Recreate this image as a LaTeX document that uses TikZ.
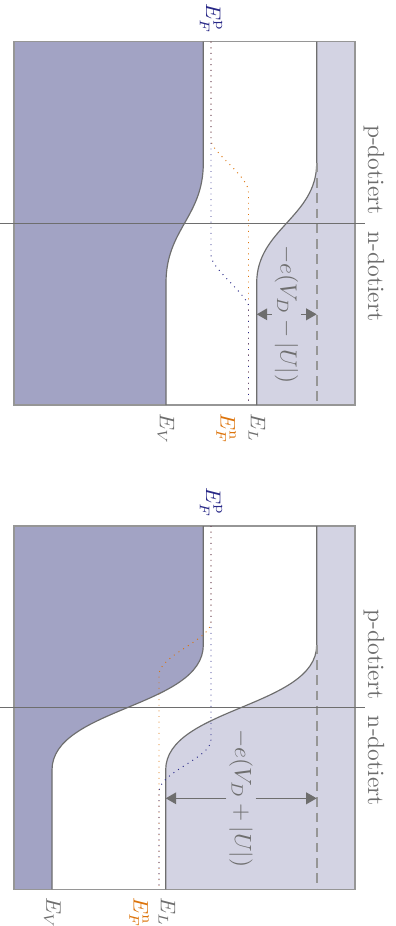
\documentclass[tikz,border=0pt]{standalone}
\usetikzlibrary{arrows.meta}

\definecolor{vbfill}{RGB}{162,163,196}
\definecolor{cbfill}{RGB}{211,211,227}
\definecolor{fpblue}{RGB}{40,40,135}
\definecolor{fnorange}{RGB}{220,115,10}
\definecolor{txtgray}{RGB}{110,110,110}
\definecolor{boxgray}{RGB}{150,150,150}

\begin{document}
\begin{tikzpicture}[x=0.015cm, y=0.015cm, rotate=-90, transform shape,
    boxline/.style={boxgray, line width=0.6pt},
    bandline/.style={txtgray, line width=0.5pt},
    refline/.style={boxgray, line width=0.8pt, dash pattern=on 4pt off 2.5pt},
    fpline/.style={fpblue, dotted, thin},
    fnline/.style={fnorange, dotted, thin},
    junction/.style={txtgray, line width=0.5pt},
    doplabel/.style={txtgray},
    elabel/.style={txtgray, font=\small},
    dimlabel/.style={txtgray, inner sep=1pt},
    dimarrow/.style={txtgray, line width=0.6pt, -{Triangle[length=4.5pt, width=5pt]}}]

  \useasboundingbox (0,0) rectangle (926,396);

  % ---- upper diagram ----
  \fill[cbfill] (41.7,316.7) -- (163,316.7) .. controls (217,316.7) and (229,256.7) .. (283,256.7)
    -- (405,256.7) -- (405,355) -- (41.7,355) -- cycle;
  \fill[vbfill] (41.7,14) -- (41.7,203.3) -- (163,203.3) .. controls (217,203.3) and (229,166) .. (283,166)
    -- (405,166) -- (405,14) -- cycle;
  \draw[boxline] (41.7,14) rectangle (405,355);

  % band edges, E_L of the p side continued
  \draw[bandline] (41.7,203.3) -- (163,203.3) .. controls (217,203.3) and (229,166) .. (283,166) -- (405,166);
  \draw[bandline] (41.7,316.7) -- (163,316.7) .. controls (217,316.7) and (229,256.7) .. (283,256.7) -- (405,256.7);
  \draw[refline] (163,316.7) -- (405,316.7);

  % quasi Fermi levels
  \draw[fnline] (41.7,211) -- (140,211) .. controls (152,211) and (176,248.5) .. (192,248.5) -- (405,248.5);
  \draw[fpline] (41.7,211) -- (255,211) .. controls (268,211) and (290,242) .. (305,248.5) -- (405,248.5);

  % junction
  \draw[junction] (223.3,0) -- (223.3,365);
  \node[doplabel, anchor=base east] (pdot1) at (223.3,368) {p-dotiert};
  \node[doplabel, anchor=base west] (ndot1) at (223.3,368) {n-dotiert};

  % level labels
  \node[elabel, text=fpblue, anchor=east] (efp1) at (41.7,211) {$E_F^{\mathrm{p}}$};
  \node[elabel, anchor=west] (ev1) at (405,166) {$E_V$};
  \node[elabel, text=fnorange, anchor=west] (efn1) at (405,226) {$E_F^{\mathrm{n}}$};
  \node[elabel, anchor=west] (el1) at (405,257) {$E_L$};

  % barrier
  \node[dimlabel] (gap1) at (314.3,286.5) {$-e(V_D-|U|)$};
  \coordinate (gap1L) at (314.3,256.7);
  \coordinate (gap1C) at (314.3,316.7);
  \draw[dimarrow] (gap1) -- (gap1L);
  \draw[dimarrow] (gap1) -- (gap1C);

  % ---- lower diagram ----
  \fill[cbfill] (526,316.7) -- (645,316.7) .. controls (707,316.7) and (708,165.7) .. (770,165.7)
    -- (889.3,165.7) -- (889.3,355) -- (526,355) -- cycle;
  \fill[vbfill] (526,14) -- (526,203.3) -- (645,203.3) .. controls (707,203.3) and (708,52) .. (770,52)
    -- (889.3,52) -- (889.3,14) -- cycle;
  \draw[boxline] (526,14) rectangle (889.3,355);

  \draw[bandline] (526,203.3) -- (645,203.3) .. controls (707,203.3) and (708,52) .. (770,52) -- (889.3,52);
  \draw[bandline] (526,316.7) -- (645,316.7) .. controls (707,316.7) and (708,165.7) .. (770,165.7) -- (889.3,165.7);
  \draw[refline] (645,316.7) -- (889.3,316.7);

  \draw[fnline] (526,211) -- (622,211) .. controls (640,211) and (655,159) .. (675,159) -- (889.3,159);
  \draw[fpline] (526,211) -- (740,211) .. controls (758,211) and (772,159) .. (792,159) -- (889.3,159);

  \draw[junction] (707.7,0) -- (707.7,365);
  \node[doplabel, anchor=base east] (pdot2) at (707.7,368) {p-dotiert};
  \node[doplabel, anchor=base west] (ndot2) at (707.7,368) {n-dotiert};

  \node[elabel, text=fpblue, anchor=east] (efp2) at (526,211) {$E_F^{\mathrm{p}}$};
  \node[elabel, anchor=west] (ev2) at (889.3,52.5) {$E_V$};
  \node[elabel, text=fnorange, anchor=west] (efn2) at (889.3,139) {$E_F^{\mathrm{n}}$};
  \node[elabel, anchor=west] (el2) at (889.3,167) {$E_L$};

  \node[dimlabel] (gap2) at (798.3,241) {$-e(V_D+|U|)$};
  \coordinate (gap2L) at (798.3,165.7);
  \coordinate (gap2C) at (798.3,316.7);
  \draw[dimarrow] (gap2) -- (gap2L);
  \draw[dimarrow] (gap2) -- (gap2C);

\end{tikzpicture}
\end{document}
